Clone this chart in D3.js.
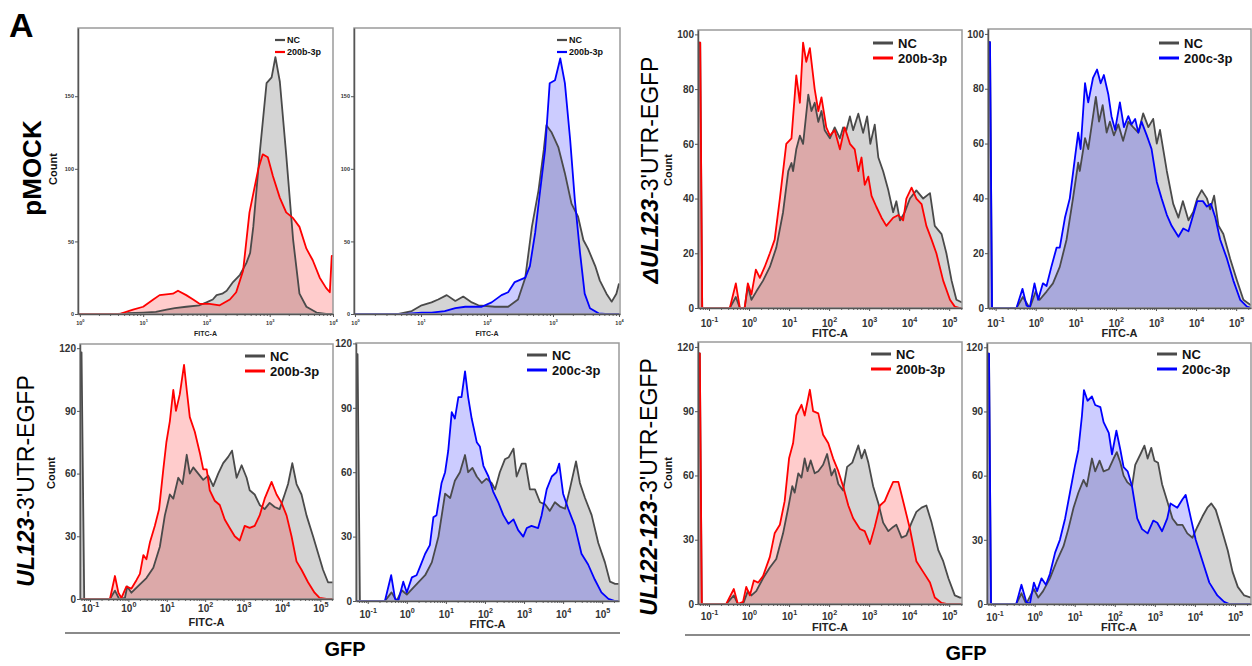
<!DOCTYPE html>
<html>
<head>
<meta charset="utf-8">
<script src="https://cdn.jsdelivr.net/npm/d3@7"></script>
<style>
  body { margin: 0; background: #fff; }
  svg text { font-family: Arial, "Liberation Sans", sans-serif; }
</style>
</head>
<body>
<svg id="fig" width="1252" height="666"></svg>
<script>
// Histogram data: [log10(FITC-A), count]

// pMOCK
const mockNC_left = [[-0.03,0],[0.6,0],[0.75,0.5],[1.0,1],[1.2,1.5],[1.37,3],[1.5,4],[1.68,5],[1.89,6],[2.0,8],[2.1,10],[2.16,13],[2.25,14],[2.32,16],[2.42,22],[2.53,27],[2.63,35],[2.69,42],[2.74,60],[2.84,110],[2.95,159],[3.03,163],[3.09,177],[3.16,160],[3.26,110],[3.37,51],[3.47,14],[3.58,5],[3.74,1],[3.89,0],[4.0,0]];
const mock200b_left = [[-0.03,0],[0.63,0],[0.66,0.5],[0.84,3],[1.0,5],[1.16,10],[1.26,13],[1.47,14],[1.55,16],[1.68,13],[1.79,10],[1.89,7],[2.05,7],[2.21,6],[2.37,10],[2.47,15],[2.58,30],[2.68,70],[2.82,100],[2.89,110],[2.97,108],[3.05,95],[3.16,80],[3.26,70],[3.37,66],[3.47,60],[3.58,45],[3.68,37],[3.79,25],[3.89,18],[3.95,15],[3.98,40],[4.0,40]];
const mockNC_right = [[-0.02,0],[0.66,0],[0.86,2],[1.01,6],[1.16,8],[1.26,10],[1.39,13],[1.52,9],[1.64,12],[1.77,8],[1.87,6],[2.12,5],[2.32,5],[2.47,10],[2.58,25],[2.68,60],[2.78,85],[2.86,113],[2.90,130],[2.98,125],[3.08,115],[3.18,97],[3.28,76],[3.38,67],[3.46,51],[3.53,45],[3.64,33],[3.71,23],[3.81,14],[3.89,8.5],[3.96,14],[4.0,21]];
const mock200b_right = [[-0.02,0],[0.76,0],[1.01,1],[1.16,1],[1.36,2],[1.52,4],[1.67,5],[1.92,5],[2.07,8],[2.22,13],[2.32,15],[2.42,22],[2.58,25],[2.65,33],[2.73,56],[2.80,83],[2.88,113],[2.95,159],[3.03,161],[3.11,176],[3.18,159],[3.26,120],[3.33,79],[3.41,42],[3.48,14],[3.56,4],[3.69,0.5],[3.79,0],[4.0,0]];

// ΔUL123-3'UTR-EGFP
const dulNC_left = [[-1.275,97],[-1.22,97],[-1.17,0],[-0.48,0],[-0.33,4],[-0.23,0],[-0.11,0],[-0.03,8],[0.06,3],[0.18,6],[0.35,10],[0.52,15],[0.68,22],[0.85,35],[0.98,50],[1.06,53],[1.10,50],[1.18,58],[1.27,63],[1.35,60],[1.48,78],[1.56,72],[1.64,75],[1.73,68],[1.81,72],[1.89,65],[2.02,62],[2.14,66],[2.27,62],[2.35,66],[2.43,65],[2.52,70],[2.60,65],[2.73,71],[2.85,64],[2.95,70],[3.03,60],[3.14,67],[3.23,55],[3.35,50],[3.48,43],[3.60,35],[3.68,39],[3.77,32],[3.89,35],[4.02,40],[4.18,43],[4.35,40],[4.52,42],[4.64,30],[4.81,27],[4.93,20],[5.06,10],[5.18,3],[5.32,2]];
const dul200b = [[-1.275,97],[-1.22,97],[-1.17,0],[-0.48,0],[-0.33,9],[-0.23,0],[-0.11,0],[-0.03,9],[0.06,5],[0.17,14],[0.27,11],[0.39,15],[0.52,20],[0.64,25],[0.77,40],[0.93,60],[1.06,62],[1.18,85],[1.27,75],[1.35,97],[1.43,90],[1.52,95],[1.64,80],[1.73,72],[1.81,77],[1.93,66],[2.02,63],[2.14,65],[2.27,58],[2.39,66],[2.52,60],[2.64,58],[2.73,50],[2.81,55],[2.89,45],[2.98,48],[3.06,41],[3.18,37],[3.31,33],[3.43,30],[3.60,33],[3.73,34],[3.85,32],[3.93,40],[4.06,44],[4.18,40],[4.31,38],[4.43,30],[4.56,25],[4.68,20],[4.85,10],[5.02,3],[5.14,0.5],[5.27,0],[5.32,0]];
const dulNC_right = [[-1.19,97],[-1.14,97],[-1.09,0],[-0.48,0],[-0.32,4],[-0.15,0],[0.0,6],[0.1,3],[0.27,6],[0.43,9],[0.6,15],[0.77,25],[0.93,40],[1.06,53],[1.10,50],[1.23,62],[1.31,58],[1.43,70],[1.50,77],[1.58,68],[1.67,74],[1.77,64],[1.85,68],[1.95,63],[2.06,67],[2.18,61],[2.31,68],[2.43,66],[2.56,64],[2.68,71],[2.81,66],[2.93,69],[3.02,60],[3.10,65],[3.27,50],[3.43,38],[3.56,33],[3.67,39],[3.81,32],[3.93,35],[4.03,40],[4.14,43],[4.27,40],[4.35,36],[4.45,41],[4.56,30],[4.68,27],[4.85,18],[5.02,10],[5.18,3],[5.37,1]];
const dul200c = [[-1.19,97],[-1.14,97],[-1.09,0],[-0.48,0],[-0.33,7],[-0.23,1],[-0.15,0],[-0.03,9],[0.06,3],[0.18,9],[0.27,8],[0.39,15],[0.52,22],[0.6,22],[0.73,33],[0.85,40],[0.98,55],[1.06,64],[1.12,58],[1.23,82],[1.31,75],[1.43,84],[1.53,87],[1.62,82],[1.70,85],[1.81,78],[1.89,70],[1.98,65],[2.10,75],[2.20,66],[2.31,70],[2.39,67],[2.48,69],[2.56,64],[2.64,68],[2.77,63],[2.89,58],[3.02,46],[3.14,40],[3.27,34],[3.39,30],[3.56,26],[3.68,29],[3.81,28],[3.93,34],[4.03,39],[4.17,39],[4.27,37],[4.37,38],[4.48,33],[4.60,25],[4.77,18],[4.93,10],[5.10,3],[5.27,0.5],[5.37,0]];

// UL123-3'UTR-EGFP
const ul123NC_left = [[-1.26,118],[-1.22,118],[-1.15,0],[-0.48,0],[-0.35,4],[-0.24,0],[-0.09,0.5],[-0.03,6],[0.08,3],[0.30,7],[0.47,10],[0.65,15],[0.82,25],[0.95,40],[1.08,50],[1.17,48],[1.30,58],[1.41,55],[1.52,69],[1.60,60],[1.69,63],[1.82,60],[1.95,57],[2.08,59],[2.21,54],[2.34,60],[2.47,65],[2.60,68],[2.70,71],[2.82,58],[2.95,64],[3.08,58],[3.16,52],[3.29,50],[3.42,45],[3.55,43],[3.68,46],[3.81,44],[3.94,43],[4.07,50],[4.16,55],[4.27,65],[4.38,55],[4.51,50],[4.64,40],[4.81,30],[4.94,22],[5.07,14],[5.20,8],[5.33,8]];
const ul123_200b = [[-1.26,0],[-0.48,0],[-0.35,11],[-0.26,3],[-0.18,0.5],[-0.05,6],[0.08,5],[0.21,9],[0.30,12],[0.39,21],[0.47,19],[0.56,27],[0.69,35],[0.80,43],[0.91,62],[0.99,75],[1.08,85],[1.17,100],[1.24,90],[1.34,98],[1.45,112],[1.52,100],[1.60,87],[1.73,80],[1.86,70],[1.95,62],[2.04,62],[2.12,52],[2.25,47],[2.38,45],[2.51,38],[2.64,34],[2.77,30],[2.90,28],[3.03,35],[3.16,34],[3.29,35],[3.42,40],[3.55,48],[3.73,56],[3.86,50],[3.99,46],[4.12,40],[4.25,30],[4.38,18],[4.51,14],[4.68,8],[4.85,3],[4.98,0.5],[5.16,0],[5.33,0]];
const ul123NC_right = [[-1.3,115],[-1.26,115],[-1.2,0],[-0.56,0],[-0.39,4],[-0.26,0],[-0.13,5],[0.0,3],[0.21,7],[0.47,12],[0.64,18],[0.81,30],[0.98,50],[1.11,48],[1.23,56],[1.36,60],[1.49,68],[1.57,60],[1.68,62],[1.79,58],[1.92,55],[2.04,57],[2.17,55],[2.26,52],[2.38,60],[2.51,66],[2.61,67],[2.73,71],[2.81,58],[2.94,64],[3.04,64],[3.15,52],[3.28,52],[3.41,46],[3.54,45],[3.66,42],[3.79,46],[3.92,44],[4.05,43],[4.17,52],[4.33,65],[4.43,55],[4.56,48],[4.73,40],[4.90,27],[5.07,18],[5.20,9],[5.33,8],[5.43,8]];
const ul123_200c = [[-1.3,0],[-0.56,0],[-0.40,12],[-0.30,1],[-0.22,0],[-0.09,9],[0.0,4],[0.13,11],[0.25,12],[0.34,16],[0.47,22],[0.59,26],[0.68,39],[0.76,40],[0.89,55],[0.98,60],[1.06,70],[1.15,88],[1.23,85],[1.32,95],[1.40,95],[1.49,107],[1.57,95],[1.66,85],[1.79,74],[1.87,72],[1.96,63],[2.09,58],[2.21,51],[2.34,46],[2.47,40],[2.60,36],[2.73,38],[2.85,33],[2.98,30],[3.07,34],[3.19,35],[3.36,34],[3.45,40],[3.58,52],[3.71,58],[3.83,60],[3.90,64],[4.00,50],[4.13,43],[4.30,35],[4.47,22],[4.64,17],[4.81,10],[4.98,4],[5.16,1],[5.33,0],[5.43,0]];

// UL122-123-3'UTR-EGFP
const ul122NC_left = [[-1.275,117],[-1.23,117],[-1.18,0],[-0.57,0],[-0.38,4],[-0.28,0],[-0.15,0],[-0.03,6],[0.06,4],[0.18,6],[0.35,12],[0.52,17],[0.68,21],[0.85,33],[0.98,45],[1.08,55],[1.14,52],[1.23,61],[1.31,59],[1.39,68],[1.46,62],[1.54,67],[1.64,61],[1.73,62],[1.85,65],[1.95,70],[2.06,60],[2.14,63],[2.23,56],[2.35,53],[2.45,64],[2.58,66],[2.73,74],[2.81,68],[2.89,72],[2.98,66],[3.10,55],[3.23,47],[3.35,38],[3.48,34],[3.60,36],[3.68,37],[3.81,31],[3.93,32],[4.06,38],[4.18,43],[4.31,45],[4.43,46],[4.56,38],[4.73,25],[4.85,20],[4.98,12],[5.14,4],[5.27,3],[5.32,3]];
const ul122_200b = [[-1.275,117],[-1.23,117],[-1.18,0],[-0.57,0],[-0.38,7],[-0.28,0],[-0.15,1],[-0.07,8],[0.02,4],[0.12,11],[0.23,10],[0.35,13],[0.52,22],[0.64,33],[0.77,37],[0.89,48],[1.0,68],[1.10,75],[1.18,88],[1.31,93],[1.39,88],[1.52,100],[1.60,90],[1.73,89],[1.85,79],[1.98,75],[2.10,68],[2.23,62],[2.35,55],[2.48,46],[2.60,40],[2.77,35],[2.89,34],[3.02,28],[3.14,36],[3.27,46],[3.39,48],[3.48,52],[3.60,57],[3.73,57],[3.85,48],[4.02,35],[4.18,20],[4.35,15],[4.52,10],[4.64,3],[4.81,0.5],[4.93,0],[5.32,0]];
const ul122NC_right = [[-1.19,117],[-1.14,117],[-1.09,0],[-0.46,0],[-0.33,5],[-0.21,0],[-0.02,7],[0.09,3],[0.21,6],[0.38,12],[0.55,20],[0.72,27],[0.84,35],[0.97,45],[1.09,52],[1.22,58],[1.30,55],[1.43,68],[1.51,62],[1.62,67],[1.72,62],[1.85,63],[1.97,68],[2.05,71],[2.14,66],[2.22,60],[2.31,57],[2.43,55],[2.51,65],[2.64,70],[2.74,74],[2.82,68],[2.91,73],[2.99,67],[3.08,66],[3.18,56],[3.31,48],[3.44,40],[3.56,37],[3.69,37],[3.81,33],[3.94,31],[4.06,36],[4.19,41],[4.31,45],[4.41,47],[4.52,44],[4.65,36],[4.82,25],[4.94,15],[5.07,8],[5.23,4],[5.40,3]];
const ul122_200c = [[-1.19,117],[-1.14,117],[-1.09,0],[-0.46,0],[-0.33,9],[-0.21,1],[-0.12,0],[-0.02,10],[0.06,6],[0.17,12],[0.28,9],[0.38,14],[0.51,24],[0.63,30],[0.76,40],[0.88,52],[1.01,65],[1.09,72],[1.18,88],[1.23,100],[1.32,95],[1.43,97],[1.51,93],[1.64,92],[1.72,85],[1.85,80],[1.93,70],[2.04,81],[2.14,72],[2.22,64],[2.32,62],[2.43,55],[2.56,40],[2.68,35],[2.82,33],[2.96,39],[3.06,38],[3.18,34],[3.31,40],[3.39,47],[3.56,45],[3.69,49],[3.77,51],[3.90,40],[4.02,30],[4.19,20],[4.36,10],[4.56,4],[4.73,1],[4.86,0],[5.40,0]];

// Tick values
const xTicksMock = [1, 10, 100, 1000, 10000];
const xTicksBiex = [0.1, 1, 10, 100, 1000, 10000, 100000];
const yTicksMock = [0, 50, 100, 150];
const yTicksDul = [0, 20, 40, 60, 80, 100];
const yTicksUl = [0, 30, 60, 90, 120];

// Panel layout
const panels = [
  {x: 78, y: 28, w: 255, h: 286, xExp: [-0.03, 4.0], yMax: 197, xt: xTicksMock, yt: yTicksMock, nc: mockNC_left, tr: mock200b_left, color: "#ff0000", name: "200b-3p", small: true, tickOff: 9, fitcOff: 19, leg: [275, 40]},
  {x: 354, y: 28, w: 266, h: 286, xExp: [-0.015, 4.015], yMax: 197, xt: xTicksMock, yt: yTicksMock, nc: mockNC_right, tr: mock200b_right, color: "#0000ff", name: "200b-3p", small: true, tickOff: 9, fitcOff: 19, leg: [557, 40]},
  {x: 698, y: 30, w: 264, h: 278, xExp: [-1.275, 5.32], yMax: 101.6, xt: xTicksBiex, yt: yTicksDul, nc: dulNC_left, tr: dul200b, color: "#ff0000", name: "200b-3p", tickOff: 15, fitcOff: 25, leg: [873, 43]},
  {x: 988, y: 29, w: 263, h: 279, xExp: [-1.19, 5.37], yMax: 101.8, xt: xTicksBiex, yt: yTicksDul, nc: dulNC_right, tr: dul200c, color: "#0000ff", name: "200c-3p", tickOff: 15, fitcOff: 25, leg: [1159, 43]},
  {x: 80, y: 344, w: 253, h: 255, xExp: [-1.26, 5.33], yMax: 122, xt: xTicksBiex, yt: yTicksUl, nc: ul123NC_left, tr: ul123_200b, color: "#ff0000", name: "200b-3p", tickOff: 9, fitcOff: 23, leg: [245, 356]},
  {x: 356, y: 343, w: 263, h: 258, xExp: [-1.3, 5.43], yMax: 120.2, xt: xTicksBiex, yt: yTicksUl, nc: ul123NC_right, tr: ul123_200c, color: "#0000ff", name: "200c-3p", tickOff: 13, fitcOff: 23, leg: [527, 355]},
  {x: 698, y: 342, w: 264, h: 262, xExp: [-1.275, 5.32], yMax: 122.3, xt: xTicksBiex, yt: yTicksUl, nc: ul122NC_left, tr: ul122_200b, color: "#ff0000", name: "200b-3p", tickOff: 12, fitcOff: 23, leg: [871, 354]},
  {x: 987, y: 343, w: 264, h: 261, xExp: [-1.19, 5.4], yMax: 122, xt: xTicksBiex, yt: yTicksUl, nc: ul122NC_right, tr: ul122_200c, color: "#0000ff", name: "200c-3p", tickOff: 13, fitcOff: 23, leg: [1157, 354]}
];

const svg = d3.select("#fig");

panels.forEach((p, i) => {
  const xs = d3.scaleLog().domain([10 ** p.xExp[0], 10 ** p.xExp[1]]).range([p.x, p.x + p.w]);
  const ys = d3.scaleLinear().domain([0, p.yMax]).range([p.y + p.h, p.y]);
  const g = svg.append("g");

  g.append("clipPath").attr("id", "clip" + i)
    .append("rect").attr("x", p.x).attr("y", p.y).attr("width", p.w).attr("height", p.h);

  const area = d3.area().x(d => xs(10 ** d[0])).y0(ys(0)).y1(d => ys(d[1]));
  const line = d3.line().x(d => xs(10 ** d[0])).y(d => ys(d[1]));

  const plot = g.append("g").attr("clip-path", `url(#clip${i})`);
  plot.append("path").datum(p.nc).attr("d", area).attr("fill", "#d4d4d4");
  plot.append("path").datum(p.tr).attr("d", area).attr("fill", p.color).attr("fill-opacity", 0.2);
  plot.append("path").datum(p.nc).attr("d", line)
    .attr("fill", "none").attr("stroke", "#4a4a4a").attr("stroke-width", 1.8).attr("stroke-linejoin", "round");
  plot.append("path").datum(p.tr).attr("d", line)
    .attr("fill", "none").attr("stroke", p.color).attr("stroke-width", 1.8).attr("stroke-linejoin", "round");

  // frame
  g.append("rect").attr("x", p.x).attr("y", p.y).attr("width", p.w).attr("height", p.h)
    .attr("fill", "none").attr("stroke", "#9a9a9a").attr("stroke-width", 1.5);

  const fs = p.small ? 5.5 : 10;

  // y axis
  const ya = g.append("g").attr("transform", `translate(${p.x},0)`)
    .call(d3.axisLeft(ys).tickValues(p.yt).tickSize(3).tickSizeOuter(0).tickPadding(1));
  ya.select(".domain").attr("stroke", "#555").attr("stroke-width", 1.5);
  ya.selectAll(".tick line").attr("stroke", "#555");
  ya.selectAll(".tick text").attr("font-size", fs).attr("font-weight", "bold").attr("fill", "#333")
    .attr("font-family", "Arial, 'Liberation Sans', sans-serif");

  // x axis with minor ticks
  const minor = [];
  d3.range(Math.floor(p.xExp[0]), Math.ceil(p.xExp[1])).forEach(k => {
    for (let m = 2; m <= 9; m++) {
      const v = m * 10 ** k;
      if (v > 10 ** p.xExp[0] && v < 10 ** p.xExp[1]) minor.push(v);
    }
  });
  g.append("g").attr("transform", `translate(0,${p.y + p.h})`)
    .call(d3.axisBottom(xs).tickValues(minor).tickSize(2).tickFormat(""))
    .call(a => a.select(".domain").remove())
    .selectAll(".tick line").attr("stroke", "#666");

  const xa = g.append("g").attr("transform", `translate(0,${p.y + p.h})`)
    .call(d3.axisBottom(xs).tickValues(p.xt).tickSize(3).tickSizeOuter(0));
  xa.select(".domain").attr("stroke", "#555").attr("stroke-width", 1.5);
  xa.selectAll(".tick line").attr("stroke", "#555");
  xa.selectAll(".tick text").each(function (d) {
    const t = d3.select(this).text(null)
      .attr("y", p.tickOff + 0.36 * fs).attr("dy", null)
      .attr("font-size", fs).attr("font-weight", "bold").attr("fill", "#333")
      .attr("font-family", "Arial, 'Liberation Sans', sans-serif");
    t.append("tspan").text("10");
    t.append("tspan").attr("dy", -0.5 * fs).attr("font-size", fs * 0.72).text(Math.round(Math.log10(d)));
  });

  // FITC-A
  g.append("text").attr("x", p.x + p.w / 2 - (p.small ? 0 : 0)).attr("y", p.y + p.h + p.fitcOff)
    .attr("text-anchor", "middle").attr("dominant-baseline", "central")
    .attr("font-size", p.small ? 7 : 11).attr("font-weight", "bold").attr("fill", "#222")
    .text("FITC-A");

  // legend
  const lf = p.small ? 9 : 13;
  const lw = p.small ? 10 : 20;
  const gap = p.small ? 12 : 15;
  [["NC", "#4a4a4a"], [p.name, p.color]].forEach((e, j) => {
    const ly = p.leg[1] + j * gap;
    g.append("line").attr("x1", p.leg[0]).attr("x2", p.leg[0] + lw).attr("y1", ly).attr("y2", ly)
      .attr("stroke", e[1]).attr("stroke-width", p.small ? 2.2 : 3);
    g.append("text").attr("x", p.leg[0] + lw + (p.small ? 2 : 5)).attr("y", ly)
      .attr("dominant-baseline", "central").attr("font-size", lf).attr("font-weight", "bold").attr("fill", "#111")
      .text(e[0]);
  });
});

// Count labels
[[53, 169, 11], [668, 170, 11], [51, 473, 11], [668, 473, 11]].forEach(c => {
  svg.append("text").attr("transform", `translate(${c[0]},${c[1]}) rotate(-90)`)
    .attr("text-anchor", "middle").attr("dominant-baseline", "central")
    .attr("font-size", c[2]).attr("font-weight", "bold").attr("fill", "#111").text("Count");
});

// Row labels
function rowLabel(x, y, size, parts) {
  const t = svg.append("text").attr("transform", `translate(${x},${y}) rotate(-90)`)
    .attr("text-anchor", "middle").attr("dominant-baseline", "central")
    .attr("font-size", size).attr("fill", "#000");
  parts.forEach(pt => {
    t.append("tspan").attr("font-weight", pt[1] ? "bold" : "normal")
      .attr("font-style", pt[2] ? "italic" : "normal").text(pt[0]);
  });
}
rowLabel(32, 168, 26, [["pMOCK", true, false]]);
rowLabel(650, 170, 23, [["ΔUL123", true, true], ["-3'UTR-EGFP", false, false]]);
rowLabel(26, 481, 23, [["UL123", true, true], ["-3'UTR-EGFP", false, false]]);
rowLabel(649, 487, 23, [["UL122-123", true, true], ["-3'UTR-EGFP", false, false]]);

// GFP group rules
[[65, 620, 633, 345, 649], [685, 1250, 635, 966, 653]].forEach(r => {
  svg.append("line").attr("x1", r[0]).attr("x2", r[1]).attr("y1", r[2]).attr("y2", r[2])
    .attr("stroke", "#8a8a8a").attr("stroke-width", 2);
  svg.append("text").attr("x", r[3]).attr("y", r[4]).attr("text-anchor", "middle")
    .attr("dominant-baseline", "central").attr("font-size", 20).attr("font-weight", "bold").text("GFP");
});

svg.append("text").attr("x", 9).attr("y", 37).attr("font-size", 34).attr("font-weight", "bold").text("A");
</script>
</body>
</html>
